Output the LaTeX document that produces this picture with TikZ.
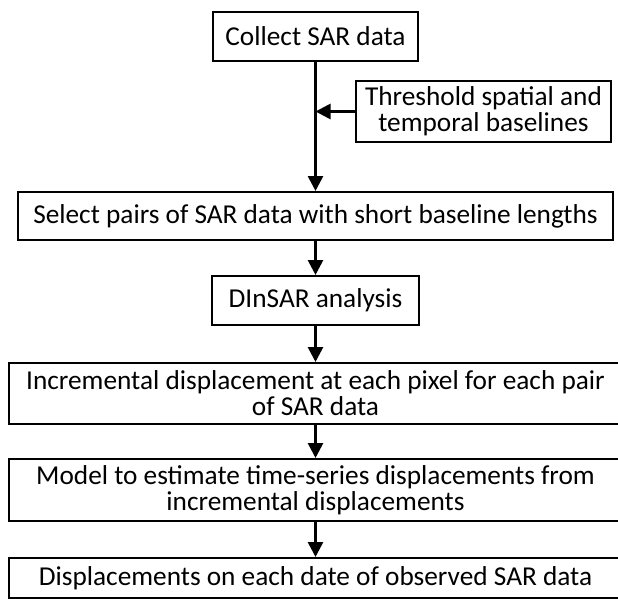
\documentclass[tikz,border=0pt]{standalone}
\usepackage{fontspec}
\setmainfont{Carlito}
\usetikzlibrary{arrows.meta,positioning}
\tikzset{
  box/.style  ={draw,line width=2pt,align=center,inner sep=0pt,
                font=\fontsize{27.3}{26}\selectfont},
  wide/.style ={box,minimum width=614pt,minimum height=61pt},
  flow/.style ={-{Triangle[length=15pt,width=15pt]},line width=2.7pt},
}

\begin{document}
\begin{tikzpicture}[x=1pt,y=1pt]
  \useasboundingbox (0,0) rectangle (618,-599);
  \clip (0,0) rectangle (618,-599);
  \node[box,minimum width=205pt,minimum height=49pt] (collect) at (315.5,-36.5) {Collect SAR data};
  \node[box,minimum width=255pt,minimum height=61pt] (thresh) at (483.5,-111.5)
       {Threshold spatial and\\temporal baselines};
  \node[box,minimum width=595pt,minimum height=48pt] (select) at (315.5,-216)
       {Select pairs of SAR data with short baseline lengths};
  \node[box,minimum width=207pt,minimum height=49pt] (dinsar) at (315.5,-300.5) {DInSAR analysis};
  \node[wide] (incr) at (315.5,-393.5)
       {Incremental displacement at each pixel for each pair\\of SAR data};
  \node[wide,minimum height=62pt] (model) at (315.5,-490)
       {Model to estimate time-series displacements from\\incremental displacements};
  \node[wide,minimum height=40pt] (displ) at (315.5,-578)
       {Displacements on each date of observed SAR data};
  \draw[flow] (collect) -- (select);
  \draw[flow] (thresh.west) -- (thresh.west -| collect.south);
  \draw[flow] (select) -- (dinsar);
  \draw[flow] (dinsar) -- (incr);
  \draw[flow] (incr) -- (model);
  \draw[flow] (model) -- (displ);
\end{tikzpicture}
\end{document}
